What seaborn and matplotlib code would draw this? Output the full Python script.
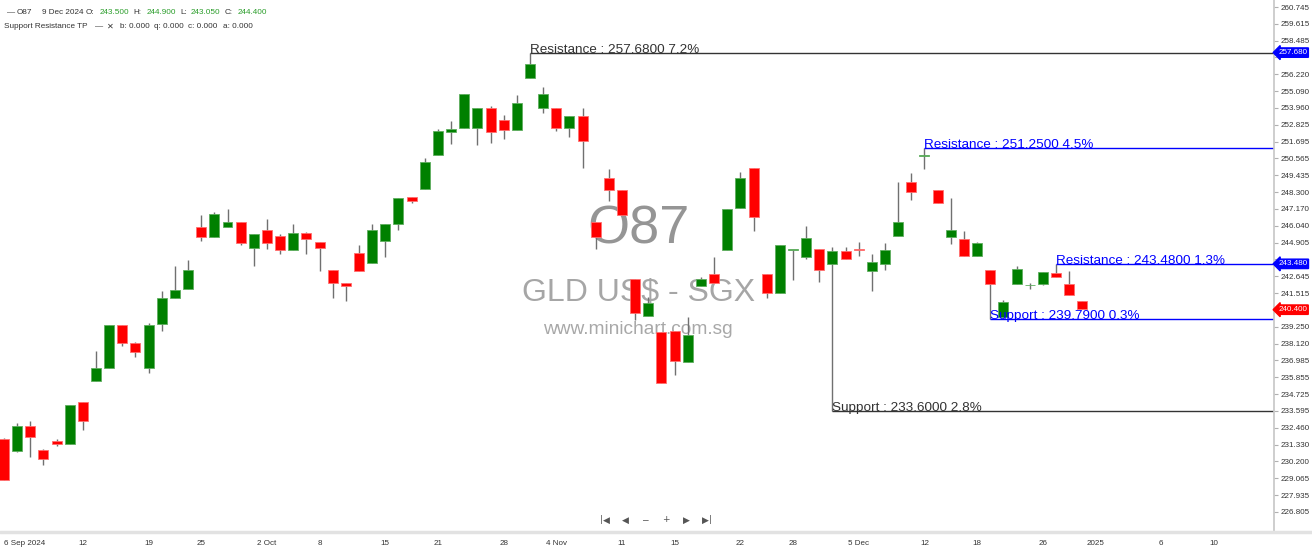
import matplotlib.pyplot as plt
import numpy as np
import pandas as pd
import seaborn as sns
from matplotlib.lines import Line2D

# O87 daily candles, 4 Sep 2024 - 31 Dec 2024
opens = [
    231.71, 230.90, 232.56, 230.99, 231.57, 231.39, 234.17, 235.61, 236.50, 239.39,
    238.16, 236.46, 239.42, 241.18, 241.79, 245.96, 245.31, 245.98, 246.31, 244.57,
    245.74, 245.35, 244.39, 245.57, 244.97, 243.05, 242.19, 244.23, 243.56, 245.00,
    246.18, 247.95, 248.51, 250.82, 252.36, 252.59, 252.59, 253.96, 253.15, 252.46,
    255.97, 253.98, 253.96, 252.59, 253.42, 246.29, 249.28, 248.42, 242.46, 239.99,
    238.92, 238.97, 236.90, 241.99, 242.82, 244.39, 247.21, 249.94, 242.82, 241.50,
    244.43, 243.96, 244.46, 243.49, 244.36, 244.45, 243.02, 243.50, 245.37, 248.96,
    250.73, 248.46, 245.31, 245.18, 244.03, 243.05, 239.93, 242.11, 242.04, 242.11,
    242.89, 242.13, 240.96]
highs = [
    231.77, 232.78, 232.90, 231.03, 231.71, 233.99, 234.22, 237.62, 239.39, 239.39,
    238.23, 239.50, 241.65, 243.34, 243.74, 246.76, 246.95, 247.17, 246.31, 245.47,
    246.50, 245.49, 246.16, 245.62, 244.97, 243.05, 242.19, 244.75, 246.16, 246.16,
    247.89, 247.95, 250.62, 252.55, 253.06, 254.92, 253.96, 254.09, 253.49, 254.83,
    257.68, 255.39, 253.96, 253.42, 253.96, 246.29, 249.84, 248.42, 242.46, 241.27,
    238.92, 238.97, 239.89, 242.62, 243.96, 247.17, 249.63, 249.94, 242.82, 244.75,
    244.43, 246.04, 244.46, 244.59, 244.59, 244.97, 244.12, 244.90, 248.96, 249.57,
    251.25, 248.46, 247.89, 245.69, 244.95, 243.05, 241.05, 243.32, 242.21, 242.93,
    243.48, 243.00, 240.96]
lows = [
    228.95, 230.85, 230.52, 229.98, 231.24, 231.39, 232.31, 235.61, 236.50, 237.98,
    237.24, 236.12, 238.97, 241.18, 241.79, 245.00, 245.31, 245.98, 244.73, 243.34,
    244.46, 244.16, 244.39, 244.16, 243.02, 241.16, 240.96, 243.00, 243.56, 243.96,
    245.76, 247.59, 248.51, 250.82, 251.52, 252.59, 251.45, 251.58, 251.89, 252.46,
    255.97, 253.64, 252.43, 252.01, 249.94, 244.46, 247.73, 246.76, 239.71, 239.99,
    235.49, 236.01, 236.90, 241.99, 242.17, 244.39, 247.21, 245.71, 241.18, 241.50,
    242.39, 243.79, 242.28, 243.49, 243.79, 244.03, 241.68, 243.05, 245.37, 247.77,
    249.84, 247.59, 244.83, 244.01, 244.03, 242.11, 239.79, 242.11, 241.79, 242.03,
    242.60, 241.37, 240.43]
closes = [
    228.95, 232.60, 231.82, 230.36, 231.39, 233.99, 232.90, 236.50, 239.39, 238.18,
    237.58, 239.39, 241.16, 241.70, 243.05, 245.31, 246.81, 246.27, 244.90, 245.47,
    244.90, 244.39, 245.57, 245.15, 244.57, 242.21, 241.97, 243.00, 245.78, 246.16,
    247.89, 247.73, 250.35, 252.41, 252.55, 254.92, 253.96, 252.36, 252.46, 254.27,
    256.91, 254.92, 252.59, 253.42, 251.76, 245.26, 248.44, 246.76, 240.20, 240.83,
    235.49, 236.93, 238.70, 242.44, 242.17, 247.17, 249.23, 246.61, 241.50, 244.75,
    244.43, 245.24, 243.07, 244.34, 243.79, 244.40, 243.62, 244.40, 246.27, 248.33,
    250.73, 247.59, 245.78, 244.01, 244.87, 242.11, 240.94, 243.13, 242.04, 242.93,
    242.60, 241.37, 240.43]

# date axis labels (position = trading-day index)
date_labels = ['6 Sep 2024', '12', '19', '25', '2 Oct', '8', '15', '21', '28', '4 Nov',
               '11', '15', '22', '28', '5 Dec', '12', '18', '26', '2025', '6', '10']
date_pos = [1.6, 6, 11, 15, 20, 24, 29, 33, 38, 42, 47, 51, 56, 60, 65, 70, 74, 79, 83, 88, 92]

price_ticks = [260.745, 259.615, 258.485, 257.355, 256.220, 255.090, 253.960, 252.825,
               251.695, 250.565, 249.435, 248.300, 247.170, 246.040, 244.905, 243.775,
               242.645, 241.515, 240.385, 239.250, 238.120, 236.985, 235.855, 234.725,
               233.595, 232.460, 231.330, 230.200, 229.065, 227.935, 226.805]

# support / resistance levels
sr_levels = [257.68, 251.25, 243.48, 239.79, 233.60]
sr_start = [40, 70, 80, 75, 63]
sr_text = ['Resistance : 257.6800 7.2%', 'Resistance : 251.2500 4.5%',
           'Resistance : 243.4800 1.3%', 'Support : 239.7900 0.3%',
           'Support : 233.6000 2.8%']
sr_colors = ['#333333', '#0000ff', '#0000ff', '#0000ff', '#333333']

# price boxes on the right axis
tag_values = [257.68, 243.48, 240.40]
tag_colors = ['#0000ff', '#0000ff', '#ff0000']

sns.set_theme(style='white')
plt.rcParams['font.family'] = ['Liberation Sans', 'DejaVu Sans']

df = pd.DataFrame({'open': opens, 'high': highs, 'low': lows, 'close': closes})
df['x'] = np.arange(len(df))
up = df['close'] >= df['open']

fig = plt.figure(figsize=(13.12, 5.5), dpi=100)
ax = fig.add_axes([0, 18 / 550, 1274 / 1312, 532 / 550])
xmax = 96.58
ax.set_xlim(-0.3, xmax)
ax.set_ylim(225.455, 261.216)

# watermark
ax.text(0.501, 0.569, 'O87', transform=ax.transAxes, ha='center', va='center',
        fontsize=39, color='#959595', zorder=0)
ax.text(0.501, 0.451, 'GLD US$ - SGX', transform=ax.transAxes, ha='center', va='center',
        fontsize=23, color='#a6a6a6', zorder=0)
ax.text(0.501, 0.380, 'www.minichart.com.sg', transform=ax.transAxes, ha='center',
        va='center', fontsize=13.8, color='#a8a8a8', zorder=0)

# candles
ax.vlines(df['x'], df['low'], df['high'], color='#707070', lw=1, zorder=2)
body = (df['close'] - df['open']).abs().clip(lower=0.05)
bottom = df[['open', 'close']].min(axis=1)
ax.bar(df['x'], body, bottom=bottom, width=0.76,
       color=np.where(up, '#008000', '#ff0000'),
       edgecolor=np.where(up, '#5fae5f', '#ff7070'), linewidth=0.6, zorder=3)

# support / resistance
for lvl, s, txt, c in zip(sr_levels, sr_start, sr_text, sr_colors):
    if lvl < df['low'][s]:
        ax.vlines(s, lvl, df['low'][s], color='#707070', lw=1, zorder=2)
    ax.hlines(lvl, s, xmax, color=c, lw=1, zorder=2)
    ax.text(s, lvl, txt, color=c, fontsize=9.7, ha='left', va='baseline', zorder=4)

# axes styling
sns.despine(ax=ax, left=True, top=True, bottom=True, right=False)
ax.spines['right'].set_color('#c8c8c8')
ax.yaxis.tick_right()
ax.set_yticks(price_ticks)
# labels hidden behind the price boxes are left blank
covered = [min(abs(v - t) for t in tag_values) < 0.5 for v in price_ticks]
ax.set_yticklabels(['' if cov else f'{v:.3f}' for v, cov in zip(price_ticks, covered)])
ax.set_xticks(date_pos)
ax.set_xticklabels(date_labels)
ax.tick_params(axis='y', length=3, width=0.8, color='#b0b0b0', pad=2,
               labelsize=5.8, labelcolor='#333333')
ax.tick_params(axis='x', length=2, width=0.8, color='#c8c8c8', pad=4,
               labelsize=5.8, labelcolor='#333333')
ax.set_xlabel('')
ax.set_ylabel('')

for v, c in zip(tag_values, tag_colors):
    ax.annotate(f'{v:.3f}', xy=(1, v), xycoords=('axes fraction', 'data'),
                xytext=(3, 0), textcoords='offset points', ha='left', va='center',
                fontsize=5.8, color='white', annotation_clip=False,
                bbox=dict(boxstyle='larrow,pad=0.15', fc=c, ec=c))

# bottom separator
fig.add_artist(Line2D([0, 1], [18 / 550, 18 / 550], color='#e2e2e2', lw=2.5))

# navigation icons
nav = [(601, '|'), (606, '◀'), (625, '◀'), (645, '−'), (666, '+'), (686, '▶'),
       (705, '▶'), (710, '|')]
for px, g in nav:
    fig.text(px / 1312, 1 - 520 / 550, g, ha='center', va='center', fontsize=6.5,
             color='#555555', family=['DejaVu Sans'])

# header
hdr_dark = '#333333'
hdr_green = '#2a9d2a'
line1 = [(7, '—', hdr_dark), (17, 'O87', hdr_dark), (42, '9 Dec 2024', hdr_dark),
         (86, 'O:', hdr_dark), (100, '243.500', hdr_green), (133, 'H:', hdr_dark),
         (147, '244.900', hdr_green), (180, 'L:', hdr_dark), (191, '243.050', hdr_green),
         (225, 'C:', hdr_dark), (238, '244.400', hdr_green)]
for px, t, c in line1:
    fig.text(px / 1312, 1 - 13 / 550, t, ha='left', va='center', fontsize=5.9, color=c)
line2 = [(4, 'Support Resistance TP'), (95, '—'), (107, '✕'), (120, 'b: 0.000'),
         (154, 'q: 0.000'), (188, 'c: 0.000'), (223, 'a: 0.000')]
for px, t in line2:
    fig.text(px / 1312, 1 - 27 / 550, t, ha='left', va='center', fontsize=5.9,
             color=hdr_dark)

fig.savefig('out.png', dpi=100)
